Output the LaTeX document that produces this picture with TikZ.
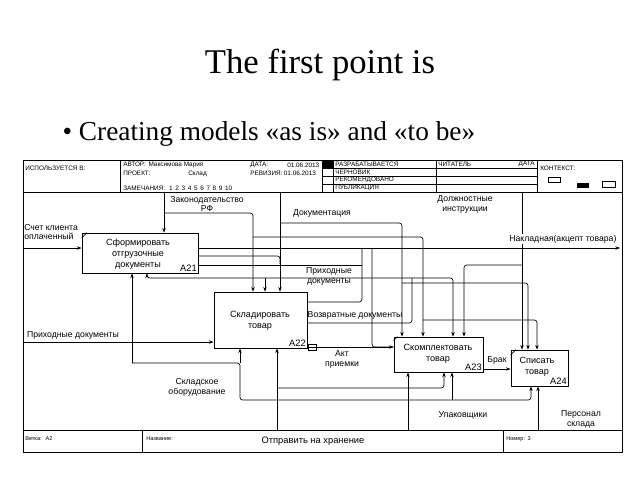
\documentclass[tikz,border=0pt]{standalone}
\usepackage{fontspec}
\setmainfont{Liberation Serif}
\newfontfamily\diafont{Liberation Sans}
\usetikzlibrary{arrows.meta,fit}

\tikzset{
	box/.style={draw, line width=0.6pt, inner sep=0pt},
	boxtext/.style={font=\diafont\fontsize{6.8}{8}\selectfont, align=center, inner sep=0pt},
	numtext/.style={font=\diafont\fontsize{7}{8}\selectfont, inner sep=1pt, anchor=south east},
	arrtext/.style={font=\diafont\fontsize{6.5}{7.4}\selectfont, align=center, inner sep=0pt},
	hdtext/.style={font=\diafont\fontsize{4.8}{5}\selectfont, inner sep=0pt, anchor=west},
	fttext/.style={font=\diafont\fontsize{4.2}{5}\selectfont, inner sep=0pt, anchor=west},
	wire/.style={draw, line width=0.5pt, rounded corners=2pt},
	flow/.style={wire, -{Stealth[length=3.5pt,width=2.6pt]}},
}

\begin{document}
\begin{tikzpicture}[x=0.75pt, y=-0.75pt]
	\useasboundingbox (0,0) rectangle (640,480);

	\node[font=\fontsize{26}{30}\selectfont, anchor=base] (ttl) at (320,73) {The first point is};
	\node[font=\fontsize{20.5}{24}\selectfont, anchor=base west] (bul) at (58,140) {\textbullet\hspace{5pt}Creating models «as is» and «to be»};

	% form frame
	\draw[line width=0.6pt] (23,160) rectangle (622,452);
	\draw[line width=0.6pt] (23,192) -- (622,192);
	\draw[line width=0.6pt] (23,430) -- (622,430);
	\foreach \hx in {120,322,333,436,537}
		\draw[line width=0.5pt] (\hx,160) -- (\hx,192);
	\foreach \hy in {168,176,184}
		\draw[line width=0.5pt] (322,\hy) -- (537,\hy);
	\fill (322,160) rectangle (333,168);
	\foreach \fx in {142,503}
		\draw[line width=0.5pt] (\fx,430) -- (\fx,452);
	\coordinate (ftop) at (23,192);
	\coordinate (fbot) at (23,430);
	\coordinate (fleft) at (23,192);
	\coordinate (fright) at (620,192);

	\node[hdtext] (huse) at (25,168) {ИСПОЛЬЗУЕТСЯ В:};
	\node[hdtext] (hauth) at (123,165) {АВТОР:\hspace{2pt}Максимова Мария};
	\node[hdtext] (hproj) at (123,173) {ПРОЕКТ:};
	\node[hdtext] (hsklad) at (188,174) {Склад};
	\node[hdtext] (hnote) at (123,188) {ЗАМЕЧАНИЯ:\hspace{3pt}1\hspace{2pt}2\hspace{2pt}3\hspace{2pt}4\hspace{2pt}5\hspace{2pt}6\hspace{2pt}7\hspace{2pt}8\hspace{2pt}9\hspace{2pt}10};
	\node[hdtext] (hdate) at (250,165) {ДАТА:};
	\node[hdtext] (hdatev) at (287,165) {01.06.2013};
	\node[hdtext] (hrev) at (250,173) {РЕВИЗИЯ:\hspace{1pt}01.06.2013};
	\node[hdtext] (hwork) at (335,164) {РАЗРАБАТЫВАЕТСЯ};
	\node[hdtext] (hdraft) at (335,172) {ЧЕРНОВИК};
	\node[hdtext] (hrec) at (335,180) {РЕКОМЕНДОВАНО};
	\node[hdtext] (hpub) at (335,188) {ПУБЛИКАЦИЯ};
	\node[hdtext] (hread) at (438,164) {ЧИТАТЕЛЬ};
	\node[hdtext, anchor=east] (hrdate) at (535,164) {ДАТА};
	\node[hdtext] (hctx) at (540,168) {КОНТЕКСТ:};
	\draw[line width=0.5pt] (548,177) rectangle (560,182);
	\fill (577,183) rectangle (589,188);
	\draw[line width=0.5pt] (602,181) rectangle (615,187);

	\node[fttext] (fnode) at (25,439) {Ветка:\hspace{3pt}A2};
	\node[fttext] (fname) at (146,439) {Название:};
	\node[font=\diafont\fontsize{7}{8}\selectfont, inner sep=0pt] (ftitle) at (313,441) {Отправить на хранение};
	\node[fttext] (fnum) at (506,439) {Номер:\hspace{2pt}3};

	% activity boxes
	\node[box, fit={(82,233) (198,273)}] (a21) {};
	\node[box, fit={(214,292) (307,348)}] (a22) {};
	\node[box, fit={(394,337) (483,372)}] (a23) {};
	\node[box, fit={(511,350) (568,386)}] (a24) {};
	\node[boxtext] (a21txt) at (138,254) {Сформировать\\отгрузочные\\документы};
	\node[boxtext] (a22txt) at (260,321) {Складировать\\товар};
	\node[boxtext] (a23txt) at (438,354) {Скомплектовать\\товар};
	\node[boxtext] (a24txt) at (537,367) {Списать\\товар};
	\node[numtext] (a21num) at (a21.south east) {A21};
	\node[numtext] (a22num) at (a22.south east) {A22};
	\node[numtext] (a23num) at (a23.south east) {A23};
	\node[numtext] (a24num) at (a24.south east) {A24};
	\draw[line width=0.5pt] ([yshift=-4pt]a21.north west) -- ([xshift=4pt]a21.north west);
	\draw[line width=0.5pt] ([yshift=-3pt]a23.north west) -- ([xshift=3pt]a23.north west);
	\draw[line width=0.5pt] ([yshift=-4pt]a24.north west) -- ([xshift=4pt]a24.north west);
	\draw[line width=0.5pt] (316,344) -- (308,344) -- (308,350) -- (316,350) -- cycle;

	% controls
	\draw[flow] (164,0 |- ftop) -- (164,0 |- a21.north);
	\draw[flow] (164,213) -| (253,0 |- a22.north);
	\draw[flow] (253,237) -| (423,0 |- a23.north);
	\draw[flow] (423,320) -| (537,0 |- a24.north);
	\draw[flow] (280,0 |- ftop) -- (280,0 |- a22.north);
	\draw[flow] (280,223) -| (402,0 |- a23.north);
	\draw[flow] (402,283) -| (528,0 |- a24.north);
	\draw[flow] (522,0 |- ftop) -- (522,0 |- a24.north);
	\draw[flow] (522,265) -| (464,0 |- a23.north);

	% inputs and outputs
	\draw[flow] (fleft |- 0,248) -- (a21.west |- 0,248);
	\draw[flow] (fleft |- 0,342) -- (a22.west |- 0,342);
	\draw[flow] (a21.east |- 0,248) -- (fright |- 0,248);
	\draw[wire] (a21.east |- 0,256) -| (280,264);
	\draw[wire] (a21.east |- 0,265) -- (362,265);
	\draw[wire] (a22.east |- 0,302) -| (362,248);
	\draw[wire] (372,248) |- (a23.west |- 0,347);
	\draw[flow] (a22.east |- 0,347) -- (a23.west |- 0,347);
	\draw[wire] (a22.east |- 0,323) -| (412,278);
	\draw[flow] (412,278) -| (147,0 |- a21.south);
	\draw[flow] (265,278) -- (265,0 |- a22.north);
	\draw[flow] (412,278) -| (453,0 |- a23.north);
	\draw[flow] (a23.east |- 0,369) -- (a24.west |- 0,369);

	% mechanisms
	\draw[flow] (277,0 |- fbot) -- (277,0 |- a22.south);
	\draw[flow] (277,388) -| (444,0 |- a23.south);
	\draw[flow] (132,363) -| (240,400) -| (531,0 |- a24.south);
	\draw[flow] (132,363) -- (132,0 |- a21.south);
	\draw[flow] (240,363) -- (240,0 |- a22.south);
	\draw[flow] (452,400) -- (452,0 |- a23.south);
	\draw[flow] (408,0 |- fbot) -- (408,0 |- a23.south);
	\draw[flow] (538,0 |- fbot) -- (538,0 |- a24.south);

	% arrow labels
	\node[arrtext] (lzak) at (207,204) {Законодательство\\РФ};
	\node[arrtext] (ldoc) at (322,213) {Документация};
	\node[arrtext] (ldol) at (465,204) {Должностные\\инструкции};
	\node[arrtext, anchor=west, align=left] (lsch) at (24,232) {Счет клиента\\оплаченный};
	\node[arrtext] (lprih) at (73,335) {Приходные документы};
	\node[arrtext, anchor=east, fill=white, inner sep=1pt] (lnak) at (618,239) {Накладная(акцепт товара)};
	\node[arrtext] (lprih2) at (329,276) {Приходные\\документы};
	\node[arrtext] (lvoz) at (355,315) {Возвратные документы};
	\node[arrtext] (lakt) at (342,359) {Акт\\приемки};
	\node[arrtext] (lbrak) at (497,360) {Брак};
	\node[arrtext] (lskl) at (197,387) {Складское\\оборудование};
	\node[arrtext] (lupak) at (463,415) {Упаковщики};
	\node[arrtext] (lpers) at (581,419) {Персонал\\склада};
\end{tikzpicture}
\end{document}
